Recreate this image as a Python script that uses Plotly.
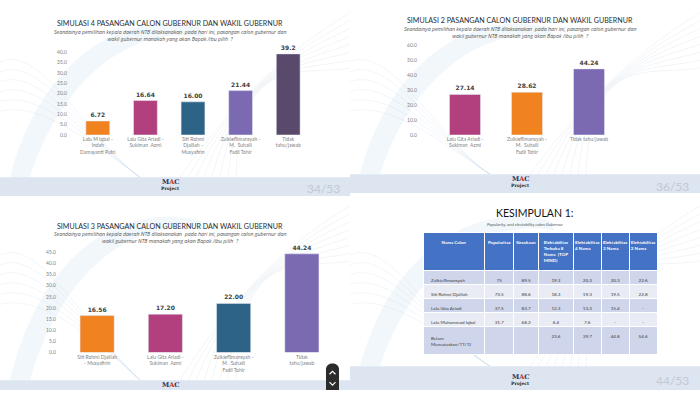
import plotly.graph_objects as go

# ---------------- data ----------------
sim4_cats = ["Lalu M Iqbal -<br>Indah<br>Damayanti Putri", "Lalu Gita Ariadi -<br>Sukiman  Azmi",
             "Siti Rohmi<br>Djalilah -<br>Musyafirin", "Zulkieflimansyah -<br>M.  Suhaili<br>Fadil Tohir",
             "Tidak<br>tahu/jawab"]
sim4_vals = [6.72, 16.64, 16.00, 21.44, 39.2]
sim4_text = ["6.72", "16.64", "16.00", "21.44", "39.2"]
sim4_colors = ["#F0821F", "#B2407F", "#2D6386", "#7B69B1", "#594A6C"]

sim2_cats = ["Lalu Gita Ariadi -<br>Sukiman  Azmi", "Zulkieflimansyah -<br>M.  Suhaili<br>Fadil Tohir",
             "Tidak tahu/jawab"]
sim2_vals = [27.14, 28.62, 44.24]
sim2_text = ["27.14", "28.62", "44.24"]
sim2_colors = ["#B2407F", "#F0821F", "#7B69B1"]

sim3_cats = ["Siti Rohmi Djalilah<br>- Musyafirin", "Lalu Gita Ariadi -<br>Sukiman  Azmi",
             "Zulkieflimansyah -<br>M.  Suhaili<br>Fadil Tohir", "Tidak<br>tahu/jawab"]
sim3_vals = [16.56, 17.20, 22.00, 44.24]
sim3_text = ["16.56", "17.20", "22.00", "44.24"]
sim3_colors = ["#F0821F", "#B2407F", "#2D6386", "#7B69B1"]

tbl_header = ["Nama Calon", "Popularitas", "Kesukaan",
              "Elektabilitas<br>Terbuka 8<br>Nama  (TOP<br>MIND)",
              "Elektabilitas<br>4 Nama", "Elektabilitas<br>3 Nama", "Elektabilitas<br>2 Nama"]
tbl_names = ["Zulkieflimansyah", "Siti Rohmi Djalilah", "Lalu Gita Ariadi",
             "Lalu Muhammad Iqbal", "Belum<br>Memutuskan/TT/TJ"]
tbl_pop = ["75", "73.5", "37.5", "31.7", "-"]
tbl_suka = ["89.5", "88.6", "83.7", "68.2", "-"]
tbl_e8 = ["19.3", "18.3", "12.3", "6.4", "23.6"]
tbl_e4 = ["20.3", "19.3", "13.3", "7.6", "39.7"]
tbl_e3 = ["20.3", "19.5", "15.4", "-", "44.8"]
tbl_e2 = ["22.6", "22.8", "-", "-", "54.6"]

W, H = 700, 393
def px(x): return x / W
def py(y): return 1 - y / H

FONT = "Lato"
fig = go.Figure()

def add_bars(vals, cats, text, colors, xa, ya):
    fig.add_trace(go.Bar(x=cats, y=vals, text=text, marker_color=colors,
                         texttemplate="<b>%{text}</b>", textposition="outside",
                         textfont=dict(size=6, color="#404040", family="DejaVu Sans"),
                         cliponaxis=False, xaxis=xa, yaxis=ya, showlegend=False,
                         hoverinfo="skip"))

add_bars(sim4_vals, sim4_cats, sim4_text, sim4_colors, "x", "y")
add_bars(sim2_vals, sim2_cats, sim2_text, sim2_colors, "x2", "y2")
add_bars(sim3_vals, sim3_cats, sim3_text, sim3_colors, "x3", "y3")

tick_font = dict(size=5, color="#7F7F7F", family=FONT)
def xax(dom, anchor):
    return dict(domain=dom, showgrid=False, showline=False, zeroline=False, ticks="",
                tickfont=tick_font, tickangle=0, fixedrange=True, anchor=anchor)
def yax(dom, rng, dtick, anchor, standoff):
    return dict(domain=dom, range=rng, dtick=dtick, tickformat=".1f", showgrid=False,
                showline=False, zeroline=False, ticks="", tickfont=tick_font,
                anchor=anchor, ticklabelstandoff=standoff, fixedrange=True)

# table
header_fill = "#4472C4"
row_fills = ["#CFD5EA", "#E9EBF5", "#CFD5EA", "#E9EBF5", "#CFD5EA"]
cols = [tbl_names, tbl_pop, tbl_suka, tbl_e8, tbl_e4, tbl_e3, tbl_e2]
font_colors = []
for ci, c in enumerate(cols):
    colc = []
    for ri in range(len(c)):
        if ri == 4 and ci in (1, 2):
            colc.append("#FFFFFF")
        else:
            colc.append("#404040")
    font_colors.append(colc)
fig.add_trace(go.Table(
    domain=dict(x=[px(423), px(657)], y=[py(362), py(233)]),
    columnwidth=[62, 29, 25, 35, 28, 28, 28],
    header=dict(values=["<b>%s</b>" % h for h in tbl_header], fill_color=header_fill,
                line=dict(color="white", width=1), align="center", height=37,
                font=dict(size=4.5, color="white", family=FONT)),
    cells=dict(values=cols, fill_color=[row_fills] * 7, line=dict(color="white", width=1),
               align=["left"] + ["center"] * 6, height=14,
               font=dict(size=4.6, color=font_colors, family=FONT))))

shapes = []
annotations = []

def curve(x0, y0, cx1, cy1, cx2, cy2, x1, y1, color, width):
    shapes.append(dict(type="path", xref="paper", yref="paper", layer="below",
                       path="M %f,%f C %f,%f %f,%f %f,%f" % (px(x0), py(y0), px(cx1), py(cy1),
                                                            px(cx2), py(cy2), px(x1), py(y1)),
                       line=dict(color=color, width=width)))

for (ox, oy, h) in [(0, 0, 177), (350, 0, 174), (0, 196, 187), (350, 196, 173)]:
    shapes.append(dict(type="path", xref="paper", yref="paper", layer="below",
                       path="M %f,%f C %f,%f %f,%f %f,%f L %f,%f C %f,%f %f,%f %f,%f Z" % (
                           px(ox + 10), py(oy + h), px(ox + 40), py(oy + 60), px(ox + 120), py(oy + 5),
                           px(ox + 200), py(oy + 25),
                           px(ox + 205), py(oy + 35),
                           px(ox + 130), py(oy + 20), px(ox + 60), py(oy + 80), px(ox + 30), py(oy + h)),
                       fillcolor="rgba(170,205,230,0.16)", line=dict(width=0)))
    for k in range(8):
        curve(ox + 180 + 8 * k, oy + h, ox + 240, oy + 90 - 6 * k, ox + 300, oy + 40 + 5 * k,
              ox + 350, oy + 10 + 8 * k, "rgba(185,200,215,0.3)", 0.6)
    for k in range(6):
        curve(ox, oy + 60 + 10 * k, ox + 40, oy + 40 + 12 * k, ox + 90, oy + 140, ox + 140, oy + h,
              "rgba(185,205,225,0.3)", 0.6)

# footer bands
for (x0, x1, y0, y1) in [(0, 350, 177, 196), (350, 700, 174, 193), (0, 350, 383, 393), (350, 700, 369, 393)]:
    shapes.append(dict(type="rect", xref="paper", yref="paper", layer="below",
                       x0=px(x0), x1=px(x1), y0=py(y1), y1=py(y0),
                       fillcolor="#DCE5F0", line=dict(width=0)))

def ann(x, y, text, font, xanchor="center"):
    annotations.append(dict(x=px(x), y=py(y), xref="paper", yref="paper", text=text, showarrow=False,
                            xanchor=xanchor, yanchor="middle", font=font))

# page numbers
for (x, y, t) in [(323, 188, "34/53"), (672, 186, "36/53"), (672, 383, "44/53")]:
    ann(x, y, t, dict(size=12, color="#C2CAD5", family=FONT))

# logos
for (x, y, full) in [(170, 185, True), (520, 182, True), (170, 388, False), (520, 383, True)]:
    ann(x, y - 3 if full else y, "<b>M<span style='color:#C0392B'>A</span>C</b>",
        dict(size=6.5, color="#2A2F5A", family="DejaVu Serif"))
    if full:
        ann(x, y + 3, "<b>Project</b>", dict(size=4.5, color="#222222", family="DejaVu Serif"))

# titles
title_font = dict(size=7.1, color="#2B2B2B", family=FONT)
sub_font = dict(size=5.2, color="#555555", family="Open Sans")
sub_text = ("<i>Seandainya pemilihan kepala daerah NTB dilaksanakan  pada hari ini, pasangan calon gubernur dan"
            "<br>wakil gubernur NTB manakah yang akan Bapak /ibu pilih  ?</i>")
sub_text1 = ("<i>Seandainya pemilihan kepala daerah NTB dilaksanakan  pada hari ini, pasangan calon gubernur dan"
             "<br>wakil gubernur manakah yang akan Bapak /ibu pilih  ?</i>")
for (x, y, t, s, sy) in [(170, 21, "SIMULASI 4 PASANGAN CALON GUBERNUR DAN WAKIL GUBERNUR", sub_text1, 33),
                          (520, 18, "SIMULASI 2 PASANGAN CALON GUBERNUR DAN WAKIL GUBERNUR", sub_text, 30),
                          (170, 227, "SIMULASI 3 PASANGAN CALON GUBERNUR DAN WAKIL GUBERNUR", sub_text, 238)]:
    ann(x, y, t, title_font)
    ann(x, sy, s, sub_font)

ann(534, 213, "KESIMPULAN 1:", dict(size=10.5, color="#111111", family=FONT))
ann(525, 225, "<i>Popularity, and electability calon Gubernur</i>", dict(size=4.3, color="#555555", family=FONT))

# scroll button
shapes.append(dict(type="path", xref="paper", yref="paper",
                   path="M %f,%f L %f,%f C %f,%f %f,%f %f,%f L %f,%f Z" % (
                       px(326), py(393), px(326), py(372), px(326), py(364), px(339), py(364),
                       px(339), py(372), px(339), py(393)),
                   fillcolor="#2B2B2B", line=dict(width=0)))
for (a, b, c) in [((329.5, 377), (332.5, 374), (335.5, 377)), ((329.5, 385), (332.5, 388), (335.5, 385))]:
    shapes.append(dict(type="path", xref="paper", yref="paper",
                       path="M %f,%f L %f,%f L %f,%f" % (px(a[0]), py(a[1]), px(b[0]), py(b[1]),
                                                         px(c[0]), py(c[1])),
                       line=dict(color="white", width=1.2)))

fig.update_layout(
    width=W, height=H, margin=dict(l=0, r=0, t=0, b=0),
    paper_bgcolor="#FFFFFF", plot_bgcolor="rgba(0,0,0,0)",
    bargap=0.5, font=dict(family=FONT), hovermode=False,
    xaxis=xax([px(74), px(312)], "y"), yaxis=yax([py(134), py(50)], [0, 40], 5, "x", 6),
    xaxis2=xax([px(434), px(620)], "y2"), yaxis2=yax([py(134), py(43)], [0, 60], 10, "x2", 16),
    xaxis3=xax([px(63), px(336)], "y3"), yaxis3=yax([py(355), py(253)], [0, 45], 5, "x3", 6),
    shapes=shapes, annotations=annotations,
)

fig.write_html("out.html", config={"displayModeBar": False, "staticPlot": True},
               post_script="document.body.style.margin='0';document.body.style.overflow='hidden';")
